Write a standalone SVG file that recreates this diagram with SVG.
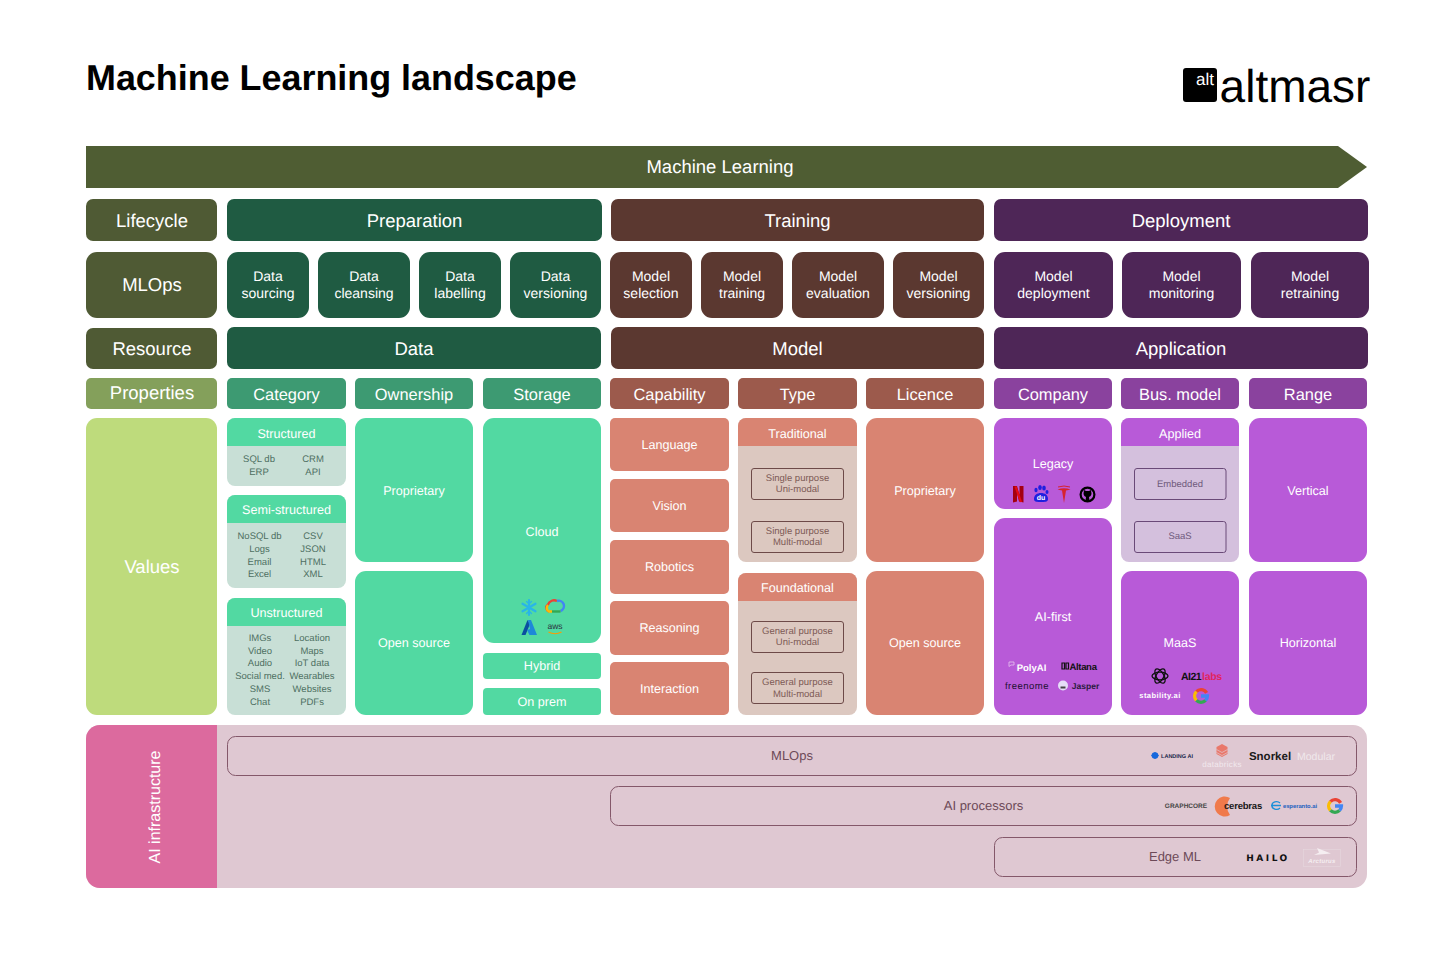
<svg xmlns="http://www.w3.org/2000/svg" width="1456" height="971" viewBox="0 0 1456 971">
<style>
text{font-family:"Liberation Sans",Arial,sans-serif;text-anchor:middle;text-rendering:geometricPrecision}
.w{fill:#fff}
.h1{font-size:18.5px;fill:#fff}
.h2{font-size:16.4px;fill:#fff}
.h3{font-size:14px;fill:#fff}
.v{font-size:12.6px;fill:#fff}
.s1{font-size:9.5px;fill:#4e6f62}
.s2{font-size:9.5px;fill:#7d5a55}
.s3{font-size:9.5px;fill:#6f5a7c}
.inf{font-size:13px;fill:#6d4a58}
.ol{fill:#4f5a34}
.pg{fill:#1f5b42}
.tr{fill:#5b3830}
.dp{fill:#4e2657}
.pg2{fill:#3d9a72}
.tr2{fill:#9c5a4c}
.dp2{fill:#8a429e}
.vg{fill:#52d9a2}
.vt{fill:#d98472}
.vd{fill:#b85ad8}
.bg{fill:#c8dfd6}
.bt{fill:#dcc8c0}
.bd{fill:#d4c0dd}
.it{fill:none;stroke:#6d4a48;stroke-width:1}
.id{fill:none;stroke:#6a4a78;stroke-width:1}
.bar{fill:none;stroke:#84586a;stroke-width:1}
.logo{font-weight:bold}
</style>
<defs>
<g id="gg" fill="none" stroke-width="3.4">
<path d="M5.6 -3.2A6.4 6.4 0 0 0 -4.6 -4.4" stroke="#ea4335"/>
<path d="M-4.6 -4.4A6.4 6.4 0 0 0 -4.6 4.4" stroke="#fbbc05"/>
<path d="M-4.6 4.4A6.4 6.4 0 0 0 4.6 4.4" stroke="#34a853"/>
<path d="M4.6 4.4A6.4 6.4 0 0 0 6.4 0H0" stroke="#4285f4"/>
</g>
</defs>

<g id="title">
<text x="86" y="90" style="text-anchor:start;font-size:35.9px;font-weight:bold;fill:#000">Machine Learning landscape</text>
</g>
<g id="brand">
<rect x="1183" y="68" width="34" height="34" rx="3" fill="#000"/>
<text x="1205" y="85" class="w" style="font-size:17px">alt</text>
<text x="1295" y="101.500" style="font-size:46px;fill:#000">altmasr</text>
</g>

<g id="banner">
<path d="M86 146H1338L1367 167L1338 188H86Z" fill="#4f5d33"/>
<text x="720" y="173" class="h1">Machine Learning</text>
</g>

<g id="row-lifecycle">
<g id="lifecycle"><rect x="86" y="199" width="131" height="42" rx="7" class="ol"/><text x="152" y="227" class="h1">Lifecycle</text></g>
<g id="preparation"><rect x="227" y="199" width="375" height="42" rx="7" class="pg"/><text x="414.500" y="227" class="h1">Preparation</text></g>
<g id="training"><rect x="611" y="199" width="373" height="42" rx="7" class="tr"/><text x="797.500" y="227" class="h1">Training</text></g>
<g id="deployment"><rect x="994" y="199" width="374" height="42" rx="7" class="dp"/><text x="1181" y="227" class="h1">Deployment</text></g>
</g>

<g id="row-mlops">
<g id="mlops"><rect x="86" y="252" width="131" height="66" rx="11" class="ol"/><text x="152" y="291" class="h1">MLOps</text></g>
<g id="data-sourcing"><rect x="227" y="252" width="82" height="66" rx="11" class="pg"/><text x="268" y="281" class="h3">Data</text><text x="268" y="298" class="h3">sourcing</text></g>
<g id="data-cleansing"><rect x="318" y="252" width="92" height="66" rx="11" class="pg"/><text x="364" y="281" class="h3">Data</text><text x="364" y="298" class="h3">cleansing</text></g>
<g id="data-labelling"><rect x="419" y="252" width="82" height="66" rx="11" class="pg"/><text x="460" y="281" class="h3">Data</text><text x="460" y="298" class="h3">labelling</text></g>
<g id="data-versioning"><rect x="510" y="252" width="91" height="66" rx="11" class="pg"/><text x="555.500" y="281" class="h3">Data</text><text x="555.500" y="298" class="h3">versioning</text></g>
<g id="model-selection"><rect x="610" y="252" width="82" height="66" rx="11" class="tr"/><text x="651" y="281" class="h3">Model</text><text x="651" y="298" class="h3">selection</text></g>
<g id="model-training"><rect x="701" y="252" width="82" height="66" rx="11" class="tr"/><text x="742" y="281" class="h3">Model</text><text x="742" y="298" class="h3">training</text></g>
<g id="model-evaluation"><rect x="792" y="252" width="92" height="66" rx="11" class="tr"/><text x="838" y="281" class="h3">Model</text><text x="838" y="298" class="h3">evaluation</text></g>
<g id="model-versioning"><rect x="893" y="252" width="91" height="66" rx="11" class="tr"/><text x="938.500" y="281" class="h3">Model</text><text x="938.500" y="298" class="h3">versioning</text></g>
<g id="model-deployment"><rect x="994" y="252" width="119" height="66" rx="11" class="dp"/><text x="1053.500" y="281" class="h3">Model</text><text x="1053.500" y="298" class="h3">deployment</text></g>
<g id="model-monitoring"><rect x="1122" y="252" width="119" height="66" rx="11" class="dp"/><text x="1181.500" y="281" class="h3">Model</text><text x="1181.500" y="298" class="h3">monitoring</text></g>
<g id="model-retraining"><rect x="1251" y="252" width="118" height="66" rx="11" class="dp"/><text x="1310" y="281" class="h3">Model</text><text x="1310" y="298" class="h3">retraining</text></g>
</g>

<g id="row-resource">
<g id="resource"><rect x="86" y="328" width="131" height="41" rx="7" class="ol"/><text x="152" y="355" class="h1">Resource</text></g>
<g id="data"><rect x="227" y="327" width="374" height="42" rx="7" class="pg"/><text x="414" y="355" class="h1">Data</text></g>
<g id="model"><rect x="611" y="327" width="373" height="42" rx="7" class="tr"/><text x="797.500" y="355" class="h1">Model</text></g>
<g id="application"><rect x="994" y="327" width="374" height="42" rx="7" class="dp"/><text x="1181" y="355" class="h1">Application</text></g>
</g>

<g id="row-properties">
<g id="properties"><rect x="86" y="378" width="131" height="31" rx="5" fill="#84a05b"/><text x="152" y="399" class="h1">Properties</text></g>
<g id="category"><rect x="227" y="378" width="119" height="31" rx="5" class="pg2"/><text x="286.500" y="399.500" class="h2">Category</text></g>
<g id="ownership"><rect x="355" y="378" width="118" height="31" rx="5" class="pg2"/><text x="414" y="399.500" class="h2">Ownership</text></g>
<g id="storage"><rect x="483" y="378" width="118" height="31" rx="5" class="pg2"/><text x="542" y="399.500" class="h2">Storage</text></g>
<g id="capability"><rect x="610" y="378" width="119" height="31" rx="5" class="tr2"/><text x="669.500" y="399.500" class="h2">Capability</text></g>
<g id="type"><rect x="738" y="378" width="119" height="31" rx="5" class="tr2"/><text x="797.500" y="399.500" class="h2">Type</text></g>
<g id="licence"><rect x="866" y="378" width="118" height="31" rx="5" class="tr2"/><text x="925" y="399.500" class="h2">Licence</text></g>
<g id="company"><rect x="994" y="378" width="118" height="31" rx="5" class="dp2"/><text x="1053" y="399.500" class="h2">Company</text></g>
<g id="bus-model"><rect x="1121" y="378" width="118" height="31" rx="5" class="dp2"/><text x="1180" y="399.500" class="h2">Bus. model</text></g>
<g id="range"><rect x="1249" y="378" width="118" height="31" rx="5" class="dp2"/><text x="1308" y="399.500" class="h2">Range</text></g>
</g>

<g id="values">
<rect x="86" y="418" width="131" height="297" rx="11" fill="#bedb7c"/>
<text x="152" y="573" class="h1">Values</text>
</g>

<g id="structured">
<rect x="227" y="418" width="119" height="68" rx="8" class="bg"/>
<path d="M227 446V426a8 8 0 0 1 8-8H338a8 8 0 0 1 8 8V446Z" class="vg"/>
<text x="286.500" y="438" class="v">Structured</text>
<text x="259" y="462" class="s1">SQL db</text><text x="313" y="462" class="s1">CRM</text>
<text x="259" y="475" class="s1">ERP</text><text x="313" y="475" class="s1">API</text>
</g>
<g id="semi-structured">
<rect x="227" y="495" width="119" height="93" rx="8" class="bg"/>
<path d="M227 523V503a8 8 0 0 1 8-8H338a8 8 0 0 1 8 8V523Z" class="vg"/>
<text x="286.500" y="514" class="v">Semi-structured</text>
<text x="259.500" y="539" class="s1">NoSQL db</text><text x="313" y="539" class="s1">CSV</text>
<text x="259.500" y="552" class="s1">Logs</text><text x="313" y="552" class="s1">JSON</text>
<text x="259.500" y="565" class="s1">Email</text><text x="313" y="565" class="s1">HTML</text>
<text x="259.500" y="577" class="s1">Excel</text><text x="313" y="577" class="s1">XML</text>
</g>
<g id="unstructured">
<rect x="227" y="598" width="119" height="117" rx="8" class="bg"/>
<path d="M227 626V606a8 8 0 0 1 8-8H338a8 8 0 0 1 8 8V626Z" class="vg"/>
<text x="286.500" y="617" class="v">Unstructured</text>
<text x="260" y="640.500" class="s1">IMGs</text><text x="312" y="640.500" class="s1">Location</text>
<text x="260" y="653.500" class="s1">Video</text><text x="312" y="653.500" class="s1">Maps</text>
<text x="260" y="666" class="s1">Audio</text><text x="312" y="666" class="s1">IoT data</text>
<text x="260" y="679" class="s1">Social med.</text><text x="312" y="679" class="s1">Wearables</text>
<text x="260" y="692" class="s1">SMS</text><text x="312" y="692" class="s1">Websites</text>
<text x="260" y="705" class="s1">Chat</text><text x="312" y="705" class="s1">PDFs</text>
</g>

<g id="own-proprietary"><rect x="355" y="418" width="118" height="144" rx="11" class="vg"/><text x="414" y="495" class="v">Proprietary</text></g>
<g id="own-open-source"><rect x="355" y="571" width="118" height="144" rx="11" class="vg"/><text x="414" y="647" class="v">Open source</text></g>
<g id="cloud">
<rect x="483" y="418" width="118" height="225" rx="11" class="vg"/>
<text x="542" y="536" class="v">Cloud</text>
<g stroke="#29b5e8" stroke-width="2.200" stroke-linecap="round" fill="none">
<path d="M529 600V615M522.500 603.700L535.500 611.300M535.500 603.700L522.500 611.300"/>
<path d="M526.500 601.500L529 604L531.500 601.500M526.500 613.500L529 611L531.500 613.500" stroke-width="1.200"/>
</g>
<path d="M549 611.500a4 4 0 0 1-1-7a6.500 6.500 0 0 1 9-3.500" fill="none" stroke="#ea4335" stroke-width="2.400"/>
<path d="M557 601a5 5 0 0 1 3.500 10" fill="none" stroke="#4285f4" stroke-width="2.400"/>
<path d="M552 611.500H560.500" fill="none" stroke="#34a853" stroke-width="2.400"/>
<path d="M548 605a4 4 0 0 0 1 6.500H552" fill="none" stroke="#fbbc05" stroke-width="2.400"/>
<path d="M527.500 620L521.500 635H525.500L530 624Z" fill="#0a4ea0"/>
<path d="M528 620H531L537 635H529.500L527 630L530 629Z" fill="#1e88d8"/>
<text x="555" y="629" style="font-size:8.500px;fill:#2b3540">aws</text>
<path d="M548.500 632q6.500 3.500 13 0" fill="none" stroke="#f90" stroke-width="1.200"/>
</g>
<g id="hybrid"><rect x="483" y="653" width="118" height="26" rx="4" class="vg"/><text x="542" y="670" class="v">Hybrid</text></g>
<g id="on-prem"><rect x="483" y="688" width="118" height="27" rx="4" class="vg"/><text x="542" y="706" class="v">On prem</text></g>

<g id="language"><rect x="610" y="418" width="119" height="53" rx="5" class="vt"/><text x="669.500" y="449" class="v">Language</text></g>
<g id="vision"><rect x="610" y="479" width="119" height="53" rx="5" class="vt"/><text x="669.500" y="510" class="v">Vision</text></g>
<g id="robotics"><rect x="610" y="540" width="119" height="54" rx="5" class="vt"/><text x="669.500" y="571" class="v">Robotics</text></g>
<g id="reasoning"><rect x="610" y="601" width="119" height="54" rx="5" class="vt"/><text x="669.500" y="632" class="v">Reasoning</text></g>
<g id="interaction"><rect x="610" y="662" width="119" height="53" rx="5" class="vt"/><text x="669.500" y="693" class="v">Interaction</text></g>

<g id="traditional">
<rect x="738" y="418" width="119" height="144" rx="8" class="bt"/>
<path d="M738 446V426a8 8 0 0 1 8-8H849a8 8 0 0 1 8 8V446Z" class="vt"/>
<text x="797.500" y="438" class="v">Traditional</text>
<rect x="751.500" y="468.500" width="92" height="31" rx="2.500" class="it"/>
<text x="797.500" y="481" class="s2">Single purpose</text><text x="797.500" y="492" class="s2">Uni-modal</text>
<rect x="751.500" y="521.500" width="92" height="31" rx="2.500" class="it"/>
<text x="797.500" y="534" class="s2">Single purpose</text><text x="797.500" y="545" class="s2">Multi-modal</text>
</g>
<g id="foundational">
<rect x="738" y="573" width="119" height="142" rx="8" class="bt"/>
<path d="M738 601V581a8 8 0 0 1 8-8H849a8 8 0 0 1 8 8V601Z" class="vt"/>
<text x="797.500" y="592" class="v">Foundational</text>
<rect x="751.500" y="621.500" width="92" height="31" rx="2.500" class="it"/>
<text x="797.500" y="634" class="s2">General purpose</text><text x="797.500" y="645" class="s2">Uni-modal</text>
<rect x="751.500" y="672.500" width="92" height="31" rx="2.500" class="it"/>
<text x="797.500" y="685" class="s2">General purpose</text><text x="797.500" y="697" class="s2">Multi-modal</text>
</g>

<g id="lic-proprietary"><rect x="866" y="418" width="118" height="144" rx="11" class="vt"/><text x="925" y="495" class="v">Proprietary</text></g>
<g id="lic-open-source"><rect x="866" y="571" width="118" height="144" rx="11" class="vt"/><text x="925" y="647" class="v">Open source</text></g>

<g id="legacy">
<rect x="994" y="418" width="118" height="91" rx="11" class="vd"/>
<text x="1053" y="468" class="v">Legacy</text>
<path d="M1013 486H1017L1019.500 495V486H1023.500V502.500L1019 501.500L1017 493V501.500L1013 502.500Z" fill="#a30010"/>
<path d="M1015.500 486.500L1021 502" stroke="#e50914" stroke-width="2.200"/>
<g fill="#1f1fe0"><ellipse cx="1036" cy="490" rx="1.600" ry="2.300"/><ellipse cx="1040" cy="487.500" rx="1.800" ry="2.500"/><ellipse cx="1044" cy="488" rx="1.800" ry="2.500"/><ellipse cx="1047" cy="492" rx="1.500" ry="2"/><path d="M1034 499c0-4 3-6 7-6s7 2 7 6c0 3-3 3-7 3s-7 0-7-3Z"/></g>
<text x="1041" y="500" class="w" style="font-size:7px;font-weight:bold">du</text>
<path d="M1057.500 489.500q6.500-2.500 13 0q-2 .5-4.500 1L1064 503L1062 490.500q-2.500-.5-4.500-1Z" fill="#d6232f"/>
<path d="M1058 487q6-2 12 0" fill="none" stroke="#d6232f" stroke-width="1"/>
<circle cx="1087.500" cy="494.500" r="6.900" fill="none" stroke="#000" stroke-width="2.200"/>
<path d="M1084 490L1086 491H1089L1091 490L1091.500 494Q1091 496.500 1089 497L1089.500 501H1085.500L1086 497Q1084 496.500 1083.500 494Z" fill="#000"/>
</g>
<g id="ai-first">
<rect x="994" y="518" width="118" height="197" rx="11" class="vd"/>
<text x="1053" y="621" class="v">AI-first</text>
<text x="1031.500" y="671" class="w logo" style="font-size:9.500px">PolyAI</text>
<path d="M1009 662h5v3h-3l-2 1.500Z" fill="none" stroke="#e6c4f0" stroke-width=".8"/>
<text x="1083" y="670" class="logo" style="font-size:9.500px;fill:#111;letter-spacing:-.3px">Altana</text>
<path d="M1062 663h2.500v6h-2.500ZM1066 663h2.500v6h-2.500Z" fill="none" stroke="#111" stroke-width="1.200"/>
<text x="1027" y="689" style="font-size:9.500px;fill:#1c1030;letter-spacing:.5px">freenome</text>
<circle cx="1063" cy="685.500" r="5" fill="#e5def7"/><path d="M1060.500 686.500h5v2h-5Z" fill="#444"/>
<text x="1085.500" y="688.500" class="logo" style="font-size:8.500px;fill:#2a1a40">Jasper</text>
</g>

<g id="applied">
<rect x="1121" y="418" width="118" height="144" rx="8" class="bd"/>
<path d="M1121 446V426a8 8 0 0 1 8-8H1231a8 8 0 0 1 8 8V446Z" class="vd"/>
<text x="1180" y="438" class="v">Applied</text>
<rect x="1134.500" y="468.500" width="91.500" height="31" rx="2.500" class="id"/>
<text x="1180" y="486.500" class="s3">Embedded</text>
<rect x="1134.500" y="521.500" width="91.500" height="31" rx="2.500" class="id"/>
<text x="1180" y="539" class="s3">SaaS</text>
</g>
<g id="maas">
<rect x="1121" y="571" width="118" height="144" rx="11" class="vd"/>
<text x="1180" y="647" class="v">MaaS</text>
<g fill="none" stroke="#111" stroke-width="1.300"><ellipse cx="1160" cy="676" rx="8" ry="3.800"/><ellipse cx="1160" cy="676" rx="8" ry="3.800" transform="rotate(60 1160 676)"/><ellipse cx="1160" cy="676" rx="8" ry="3.800" transform="rotate(120 1160 676)"/></g>
<text x="1191" y="680" class="logo" style="font-size:10.500px;fill:#111;letter-spacing:-.5px">AI21</text>
<text x="1212" y="680" class="logo" style="font-size:10.500px;fill:#e0245e;letter-spacing:-.3px">labs</text>
<text x="1160" y="698" class="w logo" style="font-size:7.600px;letter-spacing:.4px">stability.ai</text>
<use href="#gg" x="1201" y="696"/>
</g>
<g id="vertical"><rect x="1249" y="418" width="118" height="144" rx="11" class="vd"/><text x="1308" y="495" class="v">Vertical</text></g>
<g id="horizontal"><rect x="1249" y="571" width="118" height="144" rx="11" class="vd"/><text x="1308" y="647" class="v">Horizontal</text></g>

<g id="ai-infrastructure">
<rect x="86" y="725" width="1281" height="163" rx="14" fill="#dfc8d2"/>
<path d="M217 725H100a14 14 0 0 0-14 14V874a14 14 0 0 0 14 14H217Z" fill="#dc6a9e"/>
<text transform="translate(160 807) rotate(-90)" class="w" style="font-size:16px">AI infrastructure</text>
</g>
<g id="bar-mlops">
<rect x="227.500" y="736.500" width="1129" height="39" rx="8" class="bar"/>
<text x="792" y="760" class="inf">MLOps</text>
<path d="M1151 755.500l4-3.500 4 3.500-4 3.500Z" fill="#1668dc"/><circle cx="1155" cy="755.500" r="3.300" fill="#1668dc"/>
<text x="1177" y="758" class="logo" style="font-size:5.500px;fill:#16244a">LANDING AI</text>
<path d="M1222 744l5.500 3v7l-5.500 3-5.500-3v-7Z" fill="#e9786b"/>
<path d="M1216.500 749.500l5.500 3 5.500-3M1216.500 752.500l5.500 3 5.500-3" fill="none" stroke="#dfc8d2" stroke-width=".7"/>
<text x="1222" y="767" style="font-size:8px;fill:#f2e9ee;letter-spacing:.3px">databricks</text>
<text x="1270" y="760" style="font-size:11.500px;font-weight:bold;fill:#1a1a1a">Snorkel</text>
<text x="1316" y="760" style="font-size:10.500px;fill:#f0e8ec">Modular</text>
</g>
<g id="bar-processors">
<rect x="610.500" y="786.500" width="746" height="39" rx="8" class="bar"/>
<text x="983.500" y="810" class="inf">AI processors</text>
<text x="1186" y="808" class="logo" style="font-size:6.500px;fill:#444">GRAPHCORE</text>
<path d="M1230 798a10 10 0 1 0 0 17a14 14 0 0 1 0-17Z" fill="#f07a4b"/>
<text x="1243" y="809" class="logo" style="font-size:9.500px;fill:#1a1a1a;letter-spacing:-.2px">cerebras</text>
<path d="M1271 805.500h10M1280 803a4.500 3.500 0 0 0-8 2.500a4.500 3.500 0 0 0 8 2.500" fill="none" stroke="#1b8fd8" stroke-width="1.300"/>
<text x="1300" y="808" class="logo" style="font-size:5.800px;fill:#1b5fc0">esperanto.ai</text>
<use href="#gg" x="1335" y="806"/>
</g>
<g id="bar-edge">
<rect x="994.500" y="837.500" width="362" height="39" rx="8" class="bar"/>
<text x="1175" y="861" class="inf">Edge ML</text>
<text x="1268" y="861" class="logo" style="font-size:9px;fill:#111;letter-spacing:2.500px;font-family:'DejaVu Sans',sans-serif">HAILO</text>
<rect x="1303.500" y="849.500" width="37" height="17" fill="none" stroke="#e6d8de" stroke-width=".6"/>
<path d="M1317 848L1331 853.500L1314 855L1319 852.500Z" fill="#f5eef1"/>
<text x="1322" y="863" class="logo" style="font-size:6px;fill:#f5eef1;font-style:italic;letter-spacing:.3px">Arcturus</text>
</g>
</svg>
